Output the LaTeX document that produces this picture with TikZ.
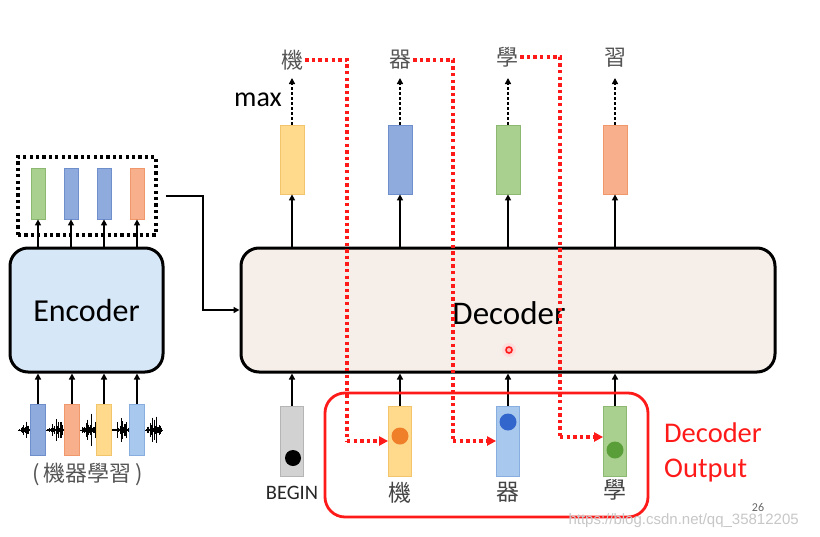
\documentclass[tikz,border=0pt]{standalone}
\usepackage{fontspec}
\setmainfont{Carlito}
\newfontfamily\cjk{Noto Sans CJK TC}
\newfontfamily\wmfont{Liberation Sans}
\usetikzlibrary{arrows.meta}
\definecolor{cY}{HTML}{FFD98C}\definecolor{cYd}{HTML}{F2C46C}
\definecolor{cB}{HTML}{8FAADC}\definecolor{cBd}{HTML}{6F8FCC}
\definecolor{cG}{HTML}{A9D08E}\definecolor{cGd}{HTML}{8DB871}
\definecolor{cO}{HTML}{F8B08C}\definecolor{cOd}{HTML}{F0986C}
\definecolor{cL}{HTML}{A9C8EE}\definecolor{cLd}{HTML}{88AEE0}
\definecolor{cS}{HTML}{D2D2D2}\definecolor{cSd}{HTML}{B5B5B5}
\definecolor{encfill}{HTML}{D6E7F7}
\definecolor{decfill}{HTML}{F6EEE8}
\definecolor{myred}{HTML}{FF1A1A}
\definecolor{txtgray}{HTML}{555555}
\tikzset{
  bar/.style n args={2}{fill=#1, draw=#2, line width=0.8pt, inner sep=0pt},
  bigbar/.style={minimum width=24pt, minimum height=69pt},
  smallbar/.style={minimum width=14pt, minimum height=51pt},
  arr/.style={-{Triangle[length=6pt,width=6pt]}, line width=2pt},
  dotarr/.style={-{Triangle[length=6pt,width=6pt]}, line width=2.6pt, dash pattern=on 2.6pt off 2.4pt},
  reddot/.style={draw=myred, line width=3.3pt, dash pattern=on 3.3pt off 3.3pt},
  redarr/.style={reddot, -{Triangle[length=9pt,width=9pt]}},
  blk/.style={draw=black, line width=3pt, rounded corners=18pt},
  cjkw/.style={font=\cjk\fontsize{22}{24}\selectfont, text=txtgray, inner sep=2pt},
  cjkb/.style={font=\cjk\fontsize{23}{25}\selectfont, text=txtgray!80!black, inner sep=1pt},
  ball/.style={circle, inner sep=0pt, minimum size=16pt}
}
\begin{document}
\begin{tikzpicture}[x=1pt, y=-1pt]
\useasboundingbox (0,0) rectangle (820,536);
\fill[white] (0,0) rectangle (820,536);

% ---------- Encoder side ----------
\node[blk, fill=encfill, minimum width=153pt, minimum height=124pt,
      font=\fontsize{32}{36}\selectfont] (enc) at (86.5,310) {Encoder};
\node[draw=black, line width=3.2pt, dash pattern=on 3.2pt off 3.2pt,
      minimum width=138pt, minimum height=78pt] (dotbox) at (87,196) {};
\node[bar={cG}{cGd}, smallbar] (eb1) at (38,193.5) {};
\node[bar={cB}{cBd}, smallbar] (eb2) at (71,193.5) {};
\node[bar={cB}{cBd}, smallbar] (eb3) at (104,193.5) {};
\node[bar={cO}{cOd}, smallbar] (eb4) at (137,193.5) {};
\foreach \n in {eb1,eb2,eb3,eb4}{\draw[arr] (\n |- enc.north) -- (\n.south);}

% waveform
\draw[line width=1pt] (18,430) -- (162,430);
\foreach \i in {0,...,144}{
  \pgfmathsetmacro\xx{18+\i}
  \pgfmathsetmacro\env{1.5 + max(0,9*(1-abs(\xx-26)/7)) + max(0,13*(1-abs(\xx-58)/10)) + max(0,17*(1-abs(\xx-90)/9)) + max(0,14*(1-abs(\xx-122)/9)) + max(0,18*(1-abs(\xx-154)/8))}
  \pgfmathsetmacro\h{\env*(0.1+0.9*abs(sin(\i*97.3)*cos(\i*41.9)))}
  \draw[line width=0.9pt] (\xx,430-\h) -- (\xx,430+\h);
}
\node[bar={cB}{cBd}, smallbar, minimum width=15pt] (ib1) at (38,429.5) {};
\node[bar={cO}{cOd}, smallbar, minimum width=15pt] (ib2) at (72,429.5) {};
\node[bar={cY}{cYd}, smallbar, minimum width=15pt] (ib3) at (104,429.5) {};
\node[bar={cL}{cLd}, smallbar, minimum width=15pt] (ib4) at (137,429.5) {};
\foreach \n in {ib1,ib2,ib3,ib4}{\draw[arr] (\n.north) -- (\n |- enc.south);}
\node[font=\cjk\fontsize{22}{24}\selectfont, text=txtgray] (inlab) at (88,474) {(\,機器學習\,)};

% ---------- Decoder ----------
\node[blk, fill=decfill, minimum width=534pt, minimum height=124pt] (dec) at (508,310) {};
\node[font=\fontsize{33}{36}\selectfont] (declab) at (509,313) {Decoder};
\fill[myred!15] (509,350) circle (7pt);
\fill[myred!30] (509,350) circle (4.5pt);
\node[circle, draw=myred, line width=1.5pt, minimum size=6pt, inner sep=0pt] (spot) at (509,350) {};

\coordinate (k) at (203,310);
\draw[arr] ([xshift=8pt]dotbox.east) -| (k) -- (dec.west);

% top output bars
\node[bar={cY}{cYd}, bigbar] (tb1) at (292,159.5) {};
\node[bar={cB}{cBd}, bigbar] (tb2) at (400,159.5) {};
\node[bar={cG}{cGd}, bigbar] (tb3) at (508,159.5) {};
\node[bar={cO}{cOd}, bigbar] (tb4) at (615,159.5) {};
\foreach \n in {tb1,tb2,tb3,tb4}{\draw[arr] (\n |- dec.north) -- (\n.south);}

\node[cjkw] (w1) at (292,60) {機};
\node[cjkw] (w2) at (400,60) {器};
\node[cjkw] (w3) at (507,57) {學};
\node[cjkw] (w4) at (615,58) {習};
\foreach \i in {1,2,3,4}{
  \coordinate (m\i) at (tb\i |- 0,78);
  \draw[dotarr] (tb\i.north) -- (m\i);
}
\node[anchor=east, font=\fontsize{28}{30}\selectfont, inner sep=0pt] (max) at (282,100) {max};

% bottom input bars
\node[bar={cS}{cSd}, minimum width=23pt, minimum height=70pt] (bb1) at (292,441) {};
\node[bar={cY}{cYd}, minimum width=23pt, minimum height=70pt] (bb2) at (400,441) {};
\node[bar={cL}{cLd}, minimum width=23pt, minimum height=70pt] (bb3) at (508,441) {};
\node[bar={cG}{cGd}, minimum width=23pt, minimum height=70pt] (bb4) at (615,441) {};
\foreach \n in {bb1,bb2,bb3,bb4}{\draw[arr] (\n.north) -- (\n |- dec.south);}
\node[ball, fill=black] (d1) at (293,458) {};
\node[ball, fill={rgb,255:red,240;green,127;blue,42}, minimum size=17pt] (d2) at (400,436) {};
\node[ball, fill={rgb,255:red,51;green,102;blue,204}, minimum size=17pt] (d3) at (508,422) {};
\node[ball, fill={rgb,255:red,90;green,158;blue,58}, minimum size=17pt] (d4) at (615,450) {};

\node[font=\fontsize{20.5}{22}\selectfont, text=black!85] (begin) at (292,493) {BEGIN};
\node[cjkb] (l2) at (400,493) {機};
\node[cjkb] (l3) at (508,492) {器};
\node[cjkb] (l4) at (615,490) {學};

% red output box
\node[draw=myred, line width=2.8pt, rounded corners=20pt,
      minimum width=323pt, minimum height=124pt] (outbox) at (486.5,455) {};
\node[anchor=west, align=left, text=myred, font=\fontsize{28.5}{35}\selectfont, inner sep=0pt] (outlab) at (664,452) {Decoder\\Output};

% red dotted feedback paths
\coordinate (c1) at (347,441);
\coordinate (c2) at (453,441);
\coordinate (c3) at (560,437);
\draw[reddot] (w1.east) -| (c1);
\draw[redarr] (c1) -- (c1 -| bb2.west);
\draw[reddot] (w2.east) -| (c2);
\draw[redarr] (c2) -- (c2 -| bb3.west);
\draw[reddot] (w3.east) -| (c3);
\draw[redarr] (c3) -- (c3 -| bb4.west);

% page number and watermark
\node[font=\fontsize{12}{13}\selectfont, text=black!60] (pg) at (758,507) {26};
\node[font=\wmfont\fontsize{15}{16}\selectfont, text=black!22, anchor=west] (wm) at (565,521) {https://blog.csdn.net/qq\_35812205};
\end{tikzpicture}
\end{document}
